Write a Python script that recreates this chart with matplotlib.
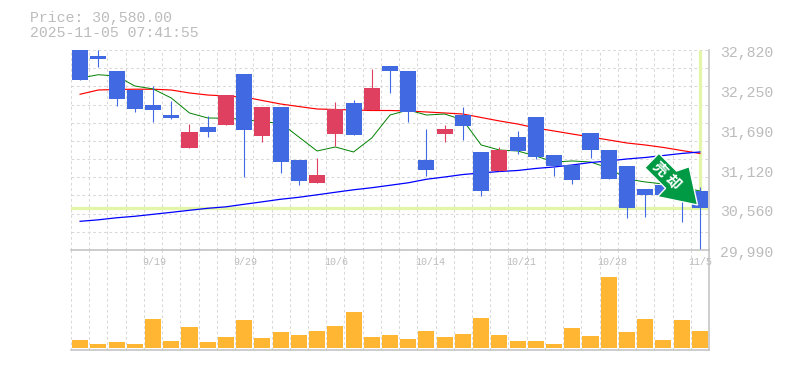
import numpy as np
import matplotlib
matplotlib.use('Agg')
import matplotlib.pyplot as plt
from matplotlib.patches import Polygon
from matplotlib.transforms import Affine2D

W, H = 785, 370

# prices
opens = [32820, 32735, 32523, 32254, 32042, 31900, 31433, 31730, 31759, 32480,
         31603, 32013, 31264, 30938, 31631, 32070, 31971, 32594, 32523, 31264,
         31631, 31900, 31377, 31108, 31589, 31872, 31334, 31193, 31645, 31405,
         31179, 30853, 30910, 30839, 30825]
closes = [32396, 32693, 32127, 31985, 31971, 31858, 31660, 31660, 32183, 31688,
          32013, 31235, 30966, 31051, 31985, 31617, 32282, 32523, 31943, 31122,
          31702, 31745, 30825, 31405, 31391, 31306, 31179, 30981, 31405, 30995,
          30584, 30768, 30768, 30726, 30580]
highs = [32820, 32820, 32523, 32254, 32311, 32098, 31773, 31886, 32183, 32480,
         32013, 32013, 31264, 31292, 32084, 32113, 32551, 32594, 32523, 31702,
         31759, 32013, 31377, 31447, 31674, 31872, 31334, 31193, 31645, 31405,
         31179, 30853, 30910, 30839, 30882]
lows = [32396, 32579, 32028, 31943, 31801, 31844, 31433, 31589, 31759, 31023,
        31518, 31080, 30910, 30938, 31462, 31617, 31971, 32212, 31801, 31037,
        31518, 31547, 30754, 31108, 31348, 31278, 31037, 30924, 31292, 30995,
        30443, 30457, 30768, 30386, 29990]

ma_short = [32424, 32470, 32452, 32311, 32269, 32141, 31929, 31858, 31854, 31840,
            31801, 31787, 31589, 31391, 31448, 31377, 31575, 31900, 31971, 31900,
            31914, 31830, 31476, 31405, 31391, 31320, 31235, 31250, 31235, 31150,
            30995, 30953, 30924, 30882, 30825]
ma_mid = [32194, 32254, 32261, 32265, 32265, 32254, 32212, 32183, 32169, 32155,
          32105, 32056, 32020, 31985, 31978, 31971, 31964, 31964, 31957, 31943,
          31929, 31914, 31865, 31816, 31773, 31716, 31674, 31631, 31589, 31547,
          31504, 31476, 31441, 31398, 31356]
ma_long = [30396, 30417, 30446, 30467, 30495, 30523, 30552, 30580, 30601, 30637,
           30672, 30708, 30736, 30771, 30807, 30842, 30871, 30906, 30941, 30991,
           31023, 31058, 31080, 31101, 31115, 31144, 31165, 31193, 31228, 31250,
           31278, 31299, 31327, 31356, 31377]

volumes = [8, 4, 6, 4, 29, 7, 21, 6, 11, 28, 10, 16, 13, 17, 22, 36, 11, 13,
           9, 17, 11, 14, 30, 13, 7, 7, 4, 20, 12, 71, 16, 29, 8, 28, 17]

date_pos = [4, 9, 14, 19, 24, 29, 34]
date_labels = ['9/19', '9/29', '10/6', '10/14', '10/21', '10/28', '11/5']
price_ticks = [32820, 32250, 31690, 31120, 30560, 29990]
price_now = 30580

BLUE = '#4169e1'
RED = '#e04060'
GRID = '#d8d8d8'
FRAME = '#c0c0c0'
TEXT = '#bcbcbc'
LIME = '#e3f5a8'
MONO = 'Liberation Mono'


def axes_px(left, top, right, bottom):
    return [left / W, 1 - bottom / H, (right - left) / W, (bottom - top) / H]


fig = plt.figure(figsize=(W / 100, H / 100), dpi=100, facecolor='white')
ax = fig.add_axes(axes_px(71, 50, 709, 250))
vol = fig.add_axes(axes_px(71, 250, 709, 350))

x = np.arange(len(opens))
edges = np.arange(len(opens)) - 0.5

for a in (ax, vol):
    a.set_xlim(-0.5, len(opens) - 0.5)
    a.set_xticks([])
    a.set_yticks([])
    a.patch.set_alpha(0)
    for s in a.spines.values():
        s.set_visible(False)
    a.vlines(edges, 0, 1, transform=a.get_xaxis_transform(), color=GRID, lw=0.75,
             linestyles=(0, (2.6, 2.6)), zorder=1)

ax.set_ylim(29990, 32820)
ax.hlines(np.linspace(29990, 32820, 12), 0, 1, transform=ax.get_yaxis_transform(),
          color=GRID, lw=0.75, linestyles=(0, (2.6, 2.6)), zorder=1)

# current price cross
ax.axhline(price_now, color=LIME, lw=2.3, zorder=2)
ax.vlines(x[-1], price_now, 32820, color=LIME, lw=2.3, zorder=2)

ax.plot(x, ma_mid, color='#ff0000', lw=0.85, zorder=3)
ax.plot(x, ma_short, color='#008000', lw=0.7, zorder=3)
ax.plot(x, ma_long, color='#0000ff', lw=0.9, zorder=3)

colors = [RED if c > o else BLUE for o, c in zip(opens, closes)]
ax.vlines(x, lows, highs, color=colors, lw=0.8, zorder=4)
ax.bar(x, np.abs(np.array(closes) - np.array(opens)),
       bottom=np.minimum(opens, closes), width=0.88, color=colors, zorder=4)

# signal arrow, offsets in pixels from its tip
tip = ax.transData.transform((x[-1], price_now)) + np.array([-2.3, 3.3])
outline = [(0, 0), (-40, 8.3), (-32, 16.7), (-52.7, 37.3), (-38.7, 51.7),
           (-21, 34), (-8.4, 38.3)]
ax.add_patch(Polygon(outline, closed=True, facecolor='#009944', edgecolor='white',
                     lw=1.0, zorder=6, clip_on=False,
                     transform=Affine2D().translate(*tip)))
for ch, off in zip('売却', [(-37.7, 36), (-24.4, 23.3)]):
    ax.annotate(ch, xy=tip, xycoords='figure pixels',
                xytext=(off[0] * 0.72, off[1] * 0.72), textcoords='offset points',
                ha='center', va='center', rotation=-45, color='white',
                family='Noto Sans CJK JP', weight='bold', fontsize=10.5, zorder=7)

# right frame and panel borders
ax.plot([1, 1], [0, 1], transform=ax.transAxes, color=FRAME, lw=1.1, clip_on=False, zorder=5)
vol.plot([1, 1], [0, 1], transform=vol.transAxes, color=FRAME, lw=1.1, clip_on=False, zorder=5)
vol.plot([0, 1], [1, 1], transform=vol.transAxes, color=FRAME, lw=1.1, clip_on=False, zorder=5)
vol.plot([0, 1], [0, 0], transform=vol.transAxes, color=FRAME, lw=1.1, clip_on=False, zorder=5)

vol.set_ylim(-2, 98)
vol.bar(x, volumes, width=0.88, color='#ffb733', zorder=3)

for p in price_ticks:
    ax.annotate(f'{p:,}', xy=(1, p), xycoords=('axes fraction', 'data'), xytext=(8, -2),
                textcoords='offset points', va='center', ha='left', color=TEXT,
                family=MONO, fontsize=10.7, annotation_clip=False)
for p, lab in zip(date_pos, date_labels):
    vol.annotate(lab, xy=(p, 1), xycoords=('data', 'axes fraction'), xytext=(-8, -8.5),
                 textcoords='offset points', va='center', ha='left', color=TEXT,
                 family=MONO, fontsize=7.2, zorder=6)

fig.text(30 / W, 1 - 18 / H, f'Price: {price_now:,.2f}', color=TEXT, family=MONO,
         fontsize=10.7, va='center')
fig.text(30 / W, 1 - 33 / H, '2025-11-05 07:41:55', color=TEXT, family=MONO,
         fontsize=10.7, va='center')

fig.savefig('out.png', dpi=100, facecolor='white')
